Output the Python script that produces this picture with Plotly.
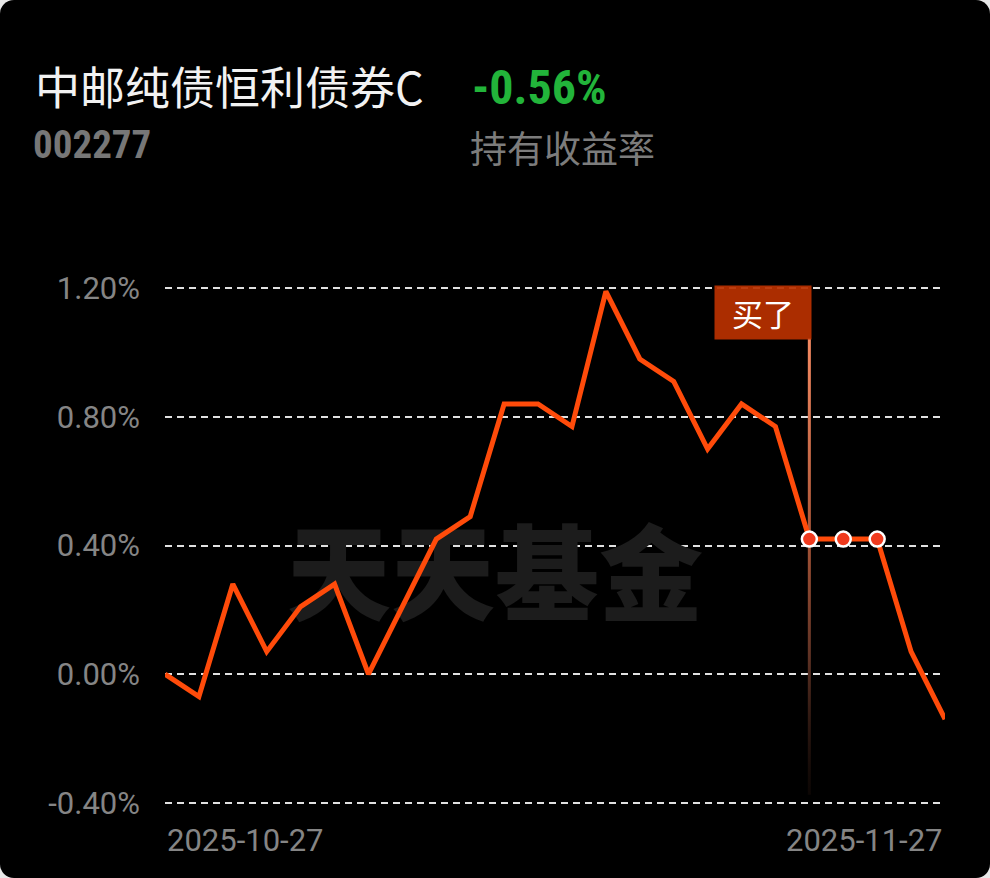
import plotly.graph_objects as go

# 交易日 & 持有收益率 (%)
dates = ["2025-10-27", "2025-10-28", "2025-10-29", "2025-10-30", "2025-10-31",
         "2025-11-03", "2025-11-04", "2025-11-05", "2025-11-06", "2025-11-07",
         "2025-11-10", "2025-11-11", "2025-11-12", "2025-11-13", "2025-11-14",
         "2025-11-17", "2025-11-18", "2025-11-19", "2025-11-20", "2025-11-21",
         "2025-11-24", "2025-11-25", "2025-11-26", "2025-11-27"]
returns = [0.00, -0.07, 0.28, 0.07, 0.21, 0.28, 0.00, 0.21, 0.42, 0.49,
           0.84, 0.84, 0.77, 1.19, 0.98, 0.91, 0.70, 0.84, 0.77, 0.42,
           0.42, 0.42, 0.07, -0.14]
held_idx = [19, 20, 21]
buy_idx = 19
y_ticks = [-0.40, 0.00, 0.40, 0.80, 1.20]

fund_name = "中邮纯债恒利债券C"
fund_code = "002277"
hold_return = "-0.56%"

W, H = 990, 878
L, R, T, B = 165, 45, 285, 72
x_idx = list(range(len(dates)))

line_color = "#FF4B0A"
narrow = "Liberation Sans Narrow, Roboto Condensed, Arial Narrow, sans-serif"
cjk = "Noto Sans CJK SC, sans-serif"
gray = "#858585"


def px(x):
    return (x - L) / (W - L - R)


def py(y):
    return (H - B - y) / (H - T - B)


fig = go.Figure()

# watermark
fig.add_trace(go.Scatter(
    x=[px(495) * (len(dates) - 1)], y=[0.27], mode="text", text=["天天基金"],
    textfont=dict(family=cjk, size=104, color="#1c1c1c", weight=900),
    hoverinfo="skip", showlegend=False))

# buy marker line (gradient)
hw = 0.045
fig.add_trace(go.Scatter(
    x=[buy_idx - hw, buy_idx + hw, buy_idx + hw, buy_idx - hw, buy_idx - hw],
    y=[-0.375, -0.375, 1.045, 1.045, -0.375],
    mode="lines", fill="toself", line=dict(width=0),
    fillgradient=dict(type="vertical",
                      colorscale=[[0, "rgba(30,15,10,0.4)"], [0.3, "#5e3224"],
                                  [0.6, "#B0593A"], [1, "#F58A62"]]),
    hoverinfo="skip", showlegend=False))

fig.add_trace(go.Scatter(
    x=x_idx, y=returns, mode="lines",
    line=dict(color=line_color, width=5), cliponaxis=False,
    hoverinfo="skip", showlegend=False))

fig.add_trace(go.Scatter(
    x=[x_idx[i] for i in held_idx], y=[returns[i] for i in held_idx],
    mode="markers", cliponaxis=False,
    marker=dict(size=15, color="#F03A1E", line=dict(color="white", width=2.5)),
    hoverinfo="skip", showlegend=False))

# 买了 label
fig.add_annotation(
    x=buy_idx, y=1.2, xref="x", yref="y", xanchor="right", yanchor="top",
    xshift=3, yshift=3, text="买了", showarrow=False,
    font=dict(family=cjk, size=31, color="white"),
    bgcolor="rgba(184,48,0,0.93)", width=92, height=49, borderpad=2)

# x labels
fig.add_annotation(x=0, y=py(840), xref="x", yref="paper", text=dates[0],
                   xanchor="left", yanchor="middle", showarrow=False,
                   font=dict(family="Roboto", size=31, color=gray))
fig.add_annotation(x=len(dates) - 1, y=py(840), xref="x", yref="paper", text=dates[-1],
                   xanchor="right", yanchor="middle", showarrow=False,
                   font=dict(family="Roboto", size=31, color=gray))

# header
fig.add_annotation(x=px(33), y=py(85), xref="paper", yref="paper", text=fund_name,
                   xanchor="left", yanchor="middle", showarrow=False,
                   font=dict(family=cjk, size=45, color="#f2f2f2"))
fig.add_annotation(x=px(470), y=py(87), xref="paper", yref="paper", text=hold_return,
                   xanchor="left", yanchor="middle", showarrow=False,
                   font=dict(family=narrow, size=48, color="#22B43A", weight="bold"))
fig.add_annotation(x=px(31), y=py(145), xref="paper", yref="paper", text=fund_code,
                   xanchor="left", yanchor="middle", showarrow=False,
                   font=dict(family=narrow, size=39, color="#777777", weight="bold"))
fig.add_annotation(x=px(468), y=py(147), xref="paper", yref="paper", text="持有收益率",
                   xanchor="left", yanchor="middle", showarrow=False,
                   font=dict(family=cjk, size=37, color="#7c7c7c"))

fig.update_xaxes(range=[0, len(dates) - 1], showgrid=False, zeroline=False,
                 showticklabels=False, showline=False)
fig.update_yaxes(range=[-0.41, 1.21], tickvals=y_ticks,
                 ticktext=[f"{v:.2f}%" for v in y_ticks],
                 showgrid=True, gridcolor="#e0e0e0", gridwidth=2, griddash="7px,5px",
                 zeroline=False, showline=False, ticklabelstandoff=24,
                 tickfont=dict(family="Roboto", size=31, color=gray))

fig.update_layout(
    width=W, height=H,
    margin=dict(l=L, r=R, t=T, b=B),
    paper_bgcolor="black", plot_bgcolor="black",
    showlegend=False)

page_js = """
document.body.style.margin = '0';
document.body.style.background = '#e8e8e8';
var gd = document.getElementById('{plot_id}');
gd.style.borderRadius = '14px';
gd.style.overflow = 'hidden';
"""
fig.write_html("out.html", post_script=page_js, config={"displayModeBar": False})
